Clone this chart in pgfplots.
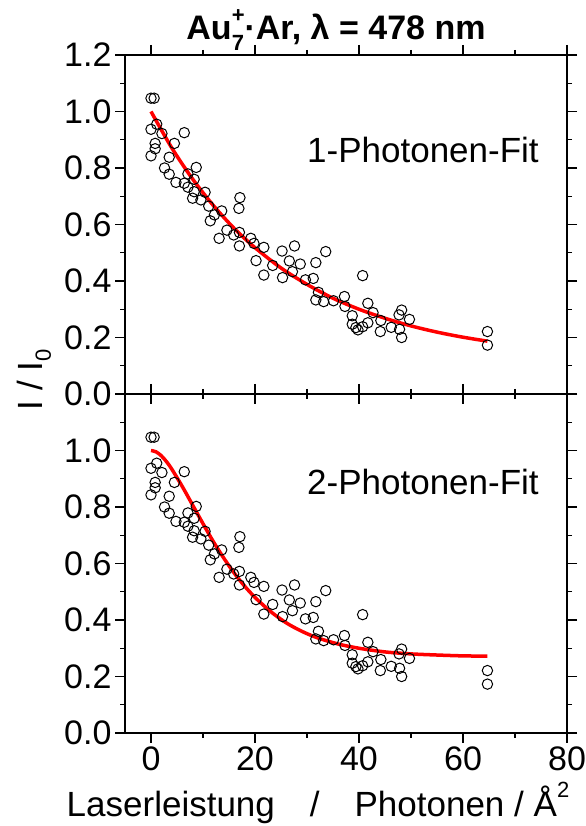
\documentclass[border=0pt]{standalone}
\usepackage{pgfplots}
\pgfplotsset{compat=1.18}
\usepackage{fontspec}
\setmainfont{Liberation Sans}
\pgfplotstableread{
x y
0 1.047
0.6 1.047
0 0.937
1.1 0.955
2.1 0.922
6.4 0.925
0.8 0.887
0.8 0.868
0 0.843
4.5 0.887
3.5 0.838
2.6 0.800
8.7 0.802
3.5 0.778
7.1 0.779
4.8 0.749
8.3 0.760
6.4 0.746
7.1 0.732
8.3 0.716
10.4 0.714
8.0 0.693
9.6 0.687
11.1 0.665
13.6 0.648
12.2 0.634
11.4 0.613
17.1 0.695
16.9 0.657
14.6 0.580
13.1 0.551
15.9 0.563
17.0 0.572
19.2 0.551
17.0 0.524
19.8 0.533
21.7 0.519
25.2 0.506
20.2 0.472
27.6 0.524
33.6 0.504
26.6 0.471
28.7 0.460
31.7 0.465
23.4 0.455
27.2 0.433
21.7 0.421
25.3 0.412
29.7 0.404
31.2 0.409
32.2 0.360
31.7 0.333
33.2 0.327
35.1 0.330
37.2 0.345
37.3 0.310
40.7 0.419
41.7 0.321
42.7 0.288
38.7 0.277
38.7 0.247
39.4 0.235
39.8 0.227
40.7 0.238
41.7 0.252
44.2 0.260
44.1 0.221
46.2 0.236
47.8 0.229
48.2 0.200
47.7 0.280
48.2 0.297
49.7 0.264
64.7 0.221
64.7 0.173
}\datatable
\pgfplotstableread{
x y
0 1.000
4 0.871
8 0.761
12 0.667
16 0.586
20 0.518
25 0.446
30 0.388
35 0.339
40 0.300
45 0.268
50 0.241
55 0.219
60 0.201
64.7 0.187
}\fitone
\pgfplotstableread{
x y
0 1.000
1 0.995
2 0.981
3 0.960
4 0.934
6 0.873
8 0.807
10 0.741
12 0.677
14 0.619
16 0.566
18 0.520
20 0.480
23 0.430
26 0.390
29 0.360
32 0.337
36 0.315
40 0.300
45 0.287
50 0.280
55 0.276
60 0.273
64.7 0.272
}\fittwo
\newcommand{\tickfont}{\fontsize{34bp}{40bp}\selectfont}
\newcommand{\bigfont}{\fontsize{35bp}{42bp}\selectfont}
\pgfplotsset{
  panel/.style={
    scale only axis, width=442bp, height=339bp,
    xmin=-5, xmax=80, ymin=0, ymax=1.2,
    axis line style={line width=1.2bp},
    every tick/.style={black, line width=1.2bp},
    tick align=outside,
    major tick length=10bp, minor tick length=5bp,
    xtick={0,20,40,60,80}, minor xtick={10,30,50,70},
    ytick={0,0.2,0.4,0.6,0.8,1.0,1.2},
    minor ytick={0.1,0.3,0.5,0.7,0.9,1.1},
    xtick pos=both, ytick pos=both,
    tick label style={font=\tickfont},
    /pgf/number format/assume math mode=true,
    clip=false,
  },
  pts/.style={only marks, mark=o, mark size=5.2bp, black, mark options={line width=1bp}},
  fit/.style={red, line width=3.5bp, smooth, no marks},
}
\begin{document}
\begin{tikzpicture}[x=1bp,y=1bp]
\useasboundingbox (0,0) rectangle (586,826);
\begin{axis}[panel, at={(125bp,432bp)}, anchor=south west,
  xticklabels={},
  yticklabels={0.0,0.2,0.4,0.6,0.8,1.0,1.2}]
\addplot[pts] table[x=x,y=y] {\datatable};
\addplot[fit] table[x=x,y=y] {\fitone};
\node[font=\bigfont] at (axis cs:52.3,0.864) {1-Photonen-Fit};
\end{axis}
\begin{axis}[panel, at={(125bp,93bp)}, anchor=south west,
  xticklabels={0,20,40,60,80},
  yticklabels={0.0,0.2,0.4,0.6,0.8,1.0,{}}]
\addplot[pts] table[x=x,y=y] {\datatable};
\addplot[fit] table[x=x,y=y] {\fittwo};
\node[font=\bigfont] at (axis cs:52.3,0.888) {2-Photonen-Fit};
\end{axis}
\node[font=\fontsize{34bp}{40bp}\selectfont\bfseries, anchor=base] at (336,786) {Au\rlap{\raisebox{-0.3em}{\fontsize{22bp}{24bp}\selectfont 7}}\raisebox{0.5em}{\fontsize{22bp}{24bp}\selectfont +}·Ar, λ = 478 nm};
\node[font=\bigfont, anchor=base] at (318,9) {Laserleistung\quad/\quad Photonen / Å\raisebox{0.55em}{\fontsize{22bp}{24bp}\selectfont 2}};
\node[font=\bigfont, rotate=90, anchor=base] at (42,446) {I / I\raisebox{-0.25em}{\fontsize{22bp}{24bp}\selectfont 0}};
\end{tikzpicture}
\end{document}
